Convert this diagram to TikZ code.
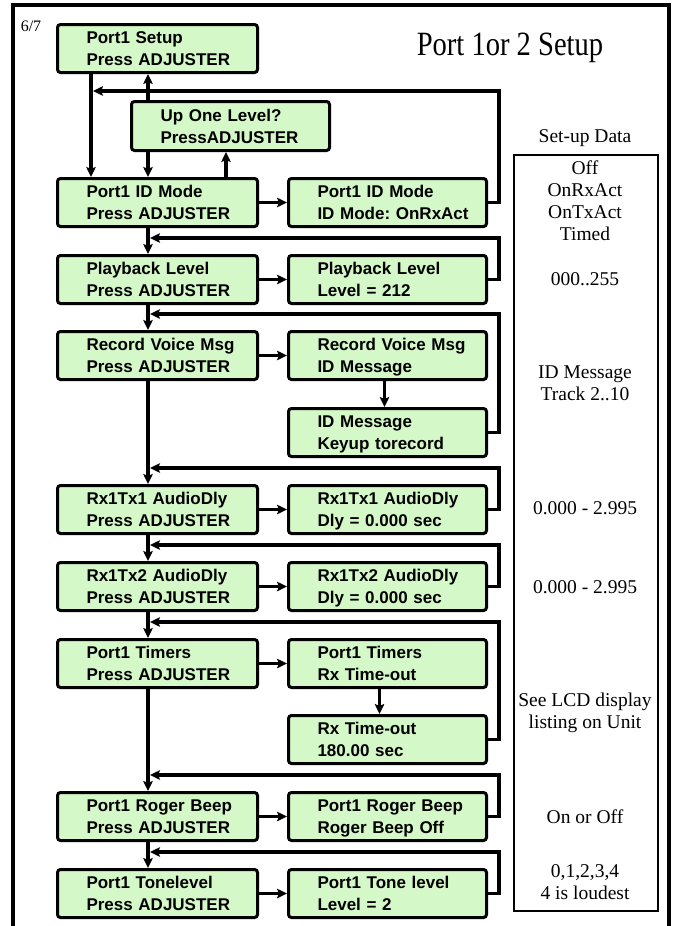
\documentclass[tikz,border=0pt]{standalone}
\usepackage{fontspec}
\setmainfont{Liberation Serif}
\newfontfamily\boxfont{Liberation Sans}
\usetikzlibrary{arrows.meta}
\definecolor{boxgreen}{RGB}{213,248,200}
\newcommand\bt[2]{\hspace*{29pt}\rule{0pt}{16pt}#1\\\hspace*{29pt}#2\rule[-4pt]{0pt}{4pt}}
\begin{document}
\begin{tikzpicture}[x=1pt,y=-1pt,
  box/.style={draw, line width=3pt, rounded corners=3pt, fill=boxgreen, anchor=north west,
    minimum height=48pt, inner xsep=0pt, inner ysep=0pt, align=left,
    font=\boxfont\bfseries\frenchspacing\fontsize{17}{22}\selectfont},
  lbox/.style={box, minimum width=200pt, text width=200pt},
  rbox/.style={box, minimum width=198pt, text width=198pt},
  conn/.style={line width=3.2pt, -{Stealth[length=10pt,width=9.5pt,inset=2pt]}},
  sd/.style={font=\fontsize{19.5}{21.5}\selectfont, align=center, inner sep=0pt},
]
\useasboundingbox (0,0) rectangle (676,926);
% frame
\draw[line width=4.5pt] (13,926) -- (13,5) -- (669,5) -- (669,926);
\node[font=\fontsize{16}{18}\selectfont, inner sep=0pt] (pg) at (31,26) {6/7};
\node[anchor=base, inner sep=0pt] (title) at (510,55)
  {\scalebox{0.84}[1]{\fontsize{34}{36}\selectfont Port 1or 2 Setup}};

% boxes
\node[lbox] (setup) at (56,23) {\bt{Port1 Setup}{Press ADJUSTER}};
\node[box, minimum width=198pt, text width=198pt, minimum height=49pt] (up) at (130,100) {\bt{Up One Level?}{PressADJUSTER}};
\node[lbox] (idm) at (56,177) {\bt{Port1 ID Mode}{Press ADJUSTER}};
\node[rbox] (idmR) at (287,177) {\bt{Port1 ID Mode}{ID Mode: OnRxAct}};
\node[lbox] (pbl) at (56,254) {\bt{Playback Level}{Press ADJUSTER}};
\node[rbox] (pblR) at (287,254) {\bt{Playback Level}{Level = 212}};
\node[lbox] (rec) at (56,330) {\bt{Record Voice Msg}{Press ADJUSTER}};
\node[rbox] (recR) at (287,330) {\bt{Record Voice Msg}{ID Message}};
\node[rbox] (idmsg) at (287,407) {\bt{ID Message}{Keyup torecord}};
\node[lbox] (rx11) at (56,484) {\bt{Rx1Tx1 AudioDly}{Press ADJUSTER}};
\node[rbox] (rx11R) at (287,484) {\bt{Rx1Tx1 AudioDly}{Dly = 0.000 sec}};
\node[lbox] (rx12) at (56,561) {\bt{Rx1Tx2 AudioDly}{Press ADJUSTER}};
\node[rbox] (rx12R) at (287,561) {\bt{Rx1Tx2 AudioDly}{Dly = 0.000 sec}};
\node[lbox] (tim) at (56,638) {\bt{Port1 Timers}{Press ADJUSTER}};
\node[rbox] (timR) at (287,638) {\bt{Port1 Timers}{Rx Time-out}};
\node[rbox] (rxto) at (287,714) {\bt{Rx Time-out}{180.00 sec}};
\node[lbox] (rog) at (56,791) {\bt{Port1 Roger Beep}{Press ADJUSTER}};
\node[rbox] (rogR) at (287,791) {\bt{Port1 Roger Beep}{Roger Beep Off}};
\node[lbox] (ton) at (56,868) {\bt{Port1 Tonelevel}{Press ADJUSTER}};
\node[rbox] (tonR) at (287,868) {\bt{Port1 Tone level}{Level = 2}};

% top connectors
\draw[conn] ([xshift=35pt]setup.south west) -- ([xshift=35pt]idm.north west);
\draw[conn] ([xshift=18pt]up.north west) -- ([xshift=18pt]up.north west |- setup.south);
\draw[conn] ([xshift=18pt]up.south west) -- ([xshift=18pt]up.south west |- idm.north);
\draw[conn] ([xshift=170pt]idm.north west) -- ([xshift=170pt]idm.north west |- up.south);
\draw[conn] (idmR.east) -- ++(11,0) |- ([xshift=37pt,yshift=-17pt]setup.south west);

% left column + feedback
\foreach \a/\b/\r in {idm/pbl/pblR, pbl/rec/idmsg, rec/rx11/rx11R, rx11/rx12/rx12R, rx12/tim/rxto, tim/rog/rogR, rog/ton/tonR}{
  \draw[conn] ([xshift=92pt]\a.south west) -- ([xshift=92pt]\b.north west);
  \draw[conn] (\r.east) -- ++(11,0) |- ([xshift=94pt,yshift=16pt]\b.north west);
}
% horizontal
\foreach \l/\r in {idm/idmR, pbl/pblR, rec/recR, rx11/rx11R, rx12/rx12R, tim/timR, rog/rogR, ton/tonR}{
  \draw[conn] (\l.east) -- (\r.west);
}
\draw[conn] ([xshift=-3pt]recR.south) -- ([xshift=-3pt]idmsg.north);
\draw[conn] ([xshift=-8pt]timR.south) -- ([xshift=-8pt]rxto.north);

% set-up data
\node[sd] (sdt) at (585,138) {Set-up Data};
\node[draw, line width=2pt, anchor=north west, minimum width=144pt, minimum height=756pt, inner sep=0pt] (sdbox) at (513,154) {};
\node[sd, font=\fontsize{19.5}{22}\selectfont] (d1) at (585,201) {Off\\OnRxAct\\OnTxAct\\Timed};
\node[sd] (d2) at (585,279) {000..255};
\node[sd] (d3) at (585,383) {ID Message\\Track 2..10};
\node[sd] (d4) at (585,508) {0.000 - 2.995};
\node[sd] (d5) at (585,587) {0.000 - 2.995};
\node[sd] (d6) at (585,713) {See LCD display\\listing on Unit};
\node[sd] (d7) at (585,817) {On or Off};
\node[sd] (d8) at (585,882) {0,1,2,3,4\\4 is loudest};
\end{tikzpicture}
\end{document}
